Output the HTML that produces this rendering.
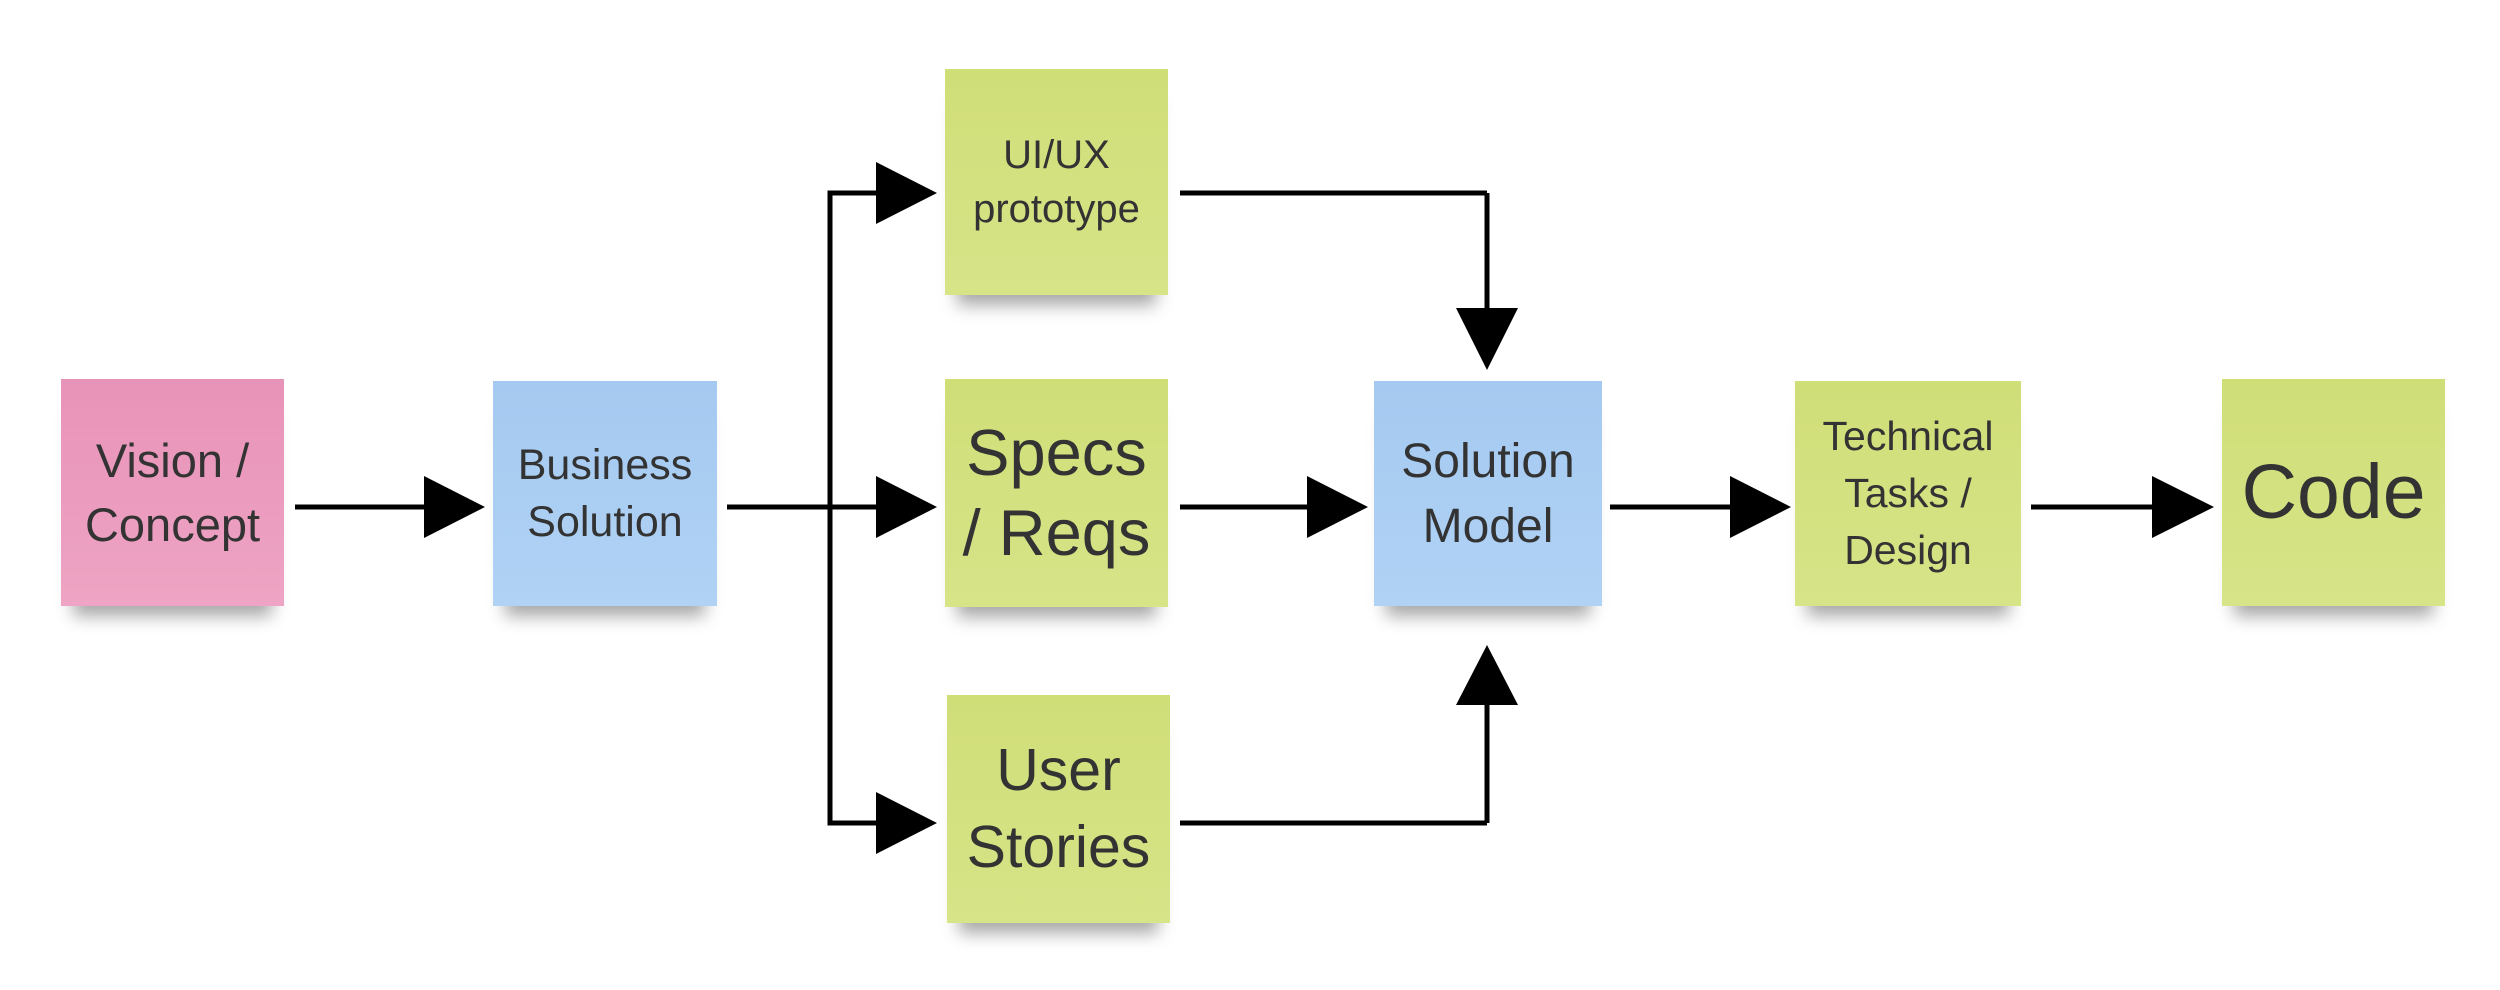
<!DOCTYPE html>
<html><head><style>
html,body{margin:0;padding:0;background:#fff;}
body{width:2500px;height:990px;position:relative;overflow:hidden;font-family:"Liberation Sans","DejaVu Sans",sans-serif;color:#333;}
.n{position:absolute;display:flex;align-items:center;justify-content:center;text-align:center;box-shadow:0 22px 16px -12px rgba(0,0,0,.35);}
.p{background:linear-gradient(#e893b8,#eea4c4);}
.b{background:linear-gradient(#a5c9f0,#b0d2f5);}
.g{background:linear-gradient(#d0de78,#d7e488);}
svg{position:absolute;left:0;top:0;}
</style></head><body>
<svg width="2500" height="990">
<g stroke="#000" stroke-width="5" fill="none">
<line x1="295" y1="507" x2="430" y2="507"/>
<line x1="727" y1="507" x2="880" y2="507"/>
<polyline points="880,193 830,193 830,823 880,823"/>
<line x1="1180" y1="193" x2="1487" y2="193"/>
<line x1="1487" y1="193" x2="1487" y2="315"/>
<line x1="1180" y1="507" x2="1310" y2="507"/>
<line x1="1180" y1="823" x2="1487" y2="823"/>
<line x1="1487" y1="823" x2="1487" y2="700"/>
<line x1="1610" y1="507" x2="1735" y2="507"/>
<line x1="2031" y1="507" x2="2157" y2="507"/>
</g>
<g fill="#000">
<polygon points="424,476 485,507 424,538"/>
<polygon points="876,162 937,193 876,224"/>
<polygon points="876,476 937,507 876,538"/>
<polygon points="876,792 937,823 876,854"/>
<polygon points="1307,476 1368,507 1307,538"/>
<polygon points="1456,308 1518,308 1487,370"/>
<polygon points="1456,705 1518,705 1487,645"/>
<polygon points="1730,476 1791,507 1730,538"/>
<polygon points="2152,476 2214,507 2152,538"/>
</g>
</svg>
<div class="n p" style="left:61px;top:379px;width:223px;height:227px;font-size:47px;line-height:64px;">Vision /<br>Concept</div>
<div class="n b" style="left:493px;top:381px;width:224px;height:225px;font-size:43px;line-height:57px;">Business<br>Solution</div>
<div class="n g" style="left:945px;top:69px;width:223px;height:226px;font-size:40px;line-height:54px;">UI/UX<br>prototype</div>
<div class="n g" style="left:945px;top:379px;width:223px;height:228px;font-size:65px;line-height:80px;">Specs<br>/ Reqs</div>
<div class="n g" style="left:947px;top:695px;width:223px;height:228px;font-size:59px;line-height:77px;">User<br>Stories</div>
<div class="n b" style="left:1374px;top:381px;width:228px;height:225px;font-size:48px;line-height:65px;">Solution<br>Model</div>
<div class="n g" style="left:1795px;top:381px;width:226px;height:225px;font-size:41px;line-height:57px;">Technical<br>Tasks /<br>Design</div>
<div class="n g" style="left:2222px;top:379px;width:223px;height:227px;font-size:77px;">Code</div>
</body></html>
